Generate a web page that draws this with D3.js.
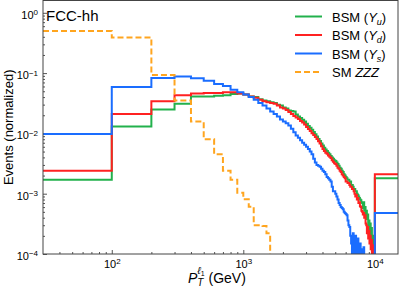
<!DOCTYPE html>
<html lang="en">
<head>
  <meta charset="utf-8">
  <script src="https://cdn.jsdelivr.net/npm/d3@7"></script>
  <style>
    body { margin: 0; background: #fff; }
    text { font-family: 'Liberation Sans', Arial, sans-serif; fill: #000; }
    .axis path { display: none; }
    .axis line { stroke: #555; stroke-width: 1; }
    .axis text { font-size: 11px; }
  </style>
</head>
<body>
<div id="chart"></div>
<script>
// bin edges: 30-100, then 100 GeV bins up to 10 TeV, then 10-15 TeV overflow
var binEdges = [30].concat(d3.range(100, 10001, 100), [15000]);

var yuValues = [
  0.0017, 0.013, 0.025, 0.031, 0.041, 0.041, 0.042, 0.043, 0.045, 0.046,
  0.044, 0.041, 0.040, 0.037, 0.035, 0.034, 0.033, 0.032, 0.030, 0.029,
  0.027, 0.026, 0.024, 0.0235, 0.023, 0.0205, 0.019, 0.018, 0.0168, 0.0158,
  0.0145, 0.0133, 0.0124, 0.0115, 0.0106, 0.0097, 0.0089, 0.0081, 0.0075, 0.0068,
  0.0063, 0.0058, 0.0054, 0.0051, 0.0048, 0.0045, 0.0042, 0.0040, 0.0038, 0.0036,
  0.0035, 0.0033, 0.0031, 0.0029, 0.0027, 0.0026, 0.0024, 0.0023, 0.0021, 0.0020,
  0.0019, 0.0018, 0.0017, 0.0017, 0.0016, 0.0016, 0.0014, 0.0014, 0.0013, 0.0012,
  0.0012, 0.0011, 0.0011, 0.0010, 0.00095, 0.0009, 0.00085, 0.0008, 0.00078, 0.00072,
  0.0007, 0.00058, 0.00072, 0.00052, 0.0006, 0.00045, 0.00052, 0.00038, 0.00045, 0.0003,
  0.00036, 0.00025, 0.00032, 0.0002, 0.00027, 0.00015, 0.0002, 0.00011, 0.00016, 0.00009,
  0.0018
];

var ydValues = [
  0.0024, 0.021, 0.034, 0.043, 0.046, 0.047, 0.047, 0.048, 0.048, 0.046,
  0.044, 0.041, 0.039, 0.036, 0.034, 0.033, 0.032, 0.031, 0.029, 0.027,
  0.026, 0.0245, 0.0226, 0.021, 0.0195, 0.0184, 0.0174, 0.0161, 0.0152, 0.0141,
  0.0128, 0.0118, 0.011, 0.0101, 0.0094, 0.0087, 0.0081, 0.0074, 0.0068, 0.0061,
  0.0055, 0.0051, 0.0048, 0.0046, 0.0043, 0.0041, 0.0039, 0.0036, 0.0034, 0.0032,
  0.0031, 0.0029, 0.0027, 0.0026, 0.0024, 0.0023, 0.0021, 0.0020, 0.0019, 0.0018,
  0.0016, 0.0016, 0.0015, 0.0015, 0.0014, 0.0013, 0.0013, 0.0012, 0.0012, 0.0011,
  0.0010, 0.0009, 0.00095, 0.0008, 0.00085, 0.0007, 0.00072, 0.00062, 0.0006, 0.00052,
  0.0005, 0.00045, 0.00048, 0.0004, 0.00044, 0.00032, 0.0003, 0.00022, 0.00028, 0.00018,
  0.00024, 0.00015, 0.0002, 0.00012, 0.00017, 0.0001, 0.00014, 0.00008, 0.00012, 0.00007,
  0.0021
];

var ysValues = [
  0.0098, 0.059, 0.083, 0.088, 0.082, 0.075, 0.066, 0.061, 0.053, 0.048,
  0.044, 0.040, 0.036, 0.032, 0.029, 0.026, 0.023, 0.021, 0.019, 0.017,
  0.0158, 0.0148, 0.0135, 0.012, 0.0105, 0.0092, 0.0085, 0.0077, 0.007, 0.0065,
  0.006, 0.0055, 0.005, 0.0045, 0.0038, 0.0033, 0.0030, 0.0029, 0.0028, 0.0026,
  0.0024, 0.0023, 0.0021, 0.0019, 0.0018, 0.0017, 0.0016, 0.0013, 0.0011, 0.0011,
  0.0010, 0.0009, 0.0008, 0.0007, 0.00065, 0.0006, 0.00058, 0.00055, 0.0005, 0.00048,
  0.00046, 0.00044, 0.00036, 0.0003, 0.00028, 0.0002, 0.00015, 0.00009, 0.00022, 0.00012,
  0.00008, 0.0002, 0.00014, 0.00006, 0.00018, 0.00011, 0.00005, 0.00015, 0.00009, 0.00012,
  0.00004, 0.00008, 0.00013, 0.00005, 0.00009, 0.00004, 0.00001, 0.00001, 0.00001, 0.00001,
  0.00001, 0.00001, 0.00001, 0.00001, 0.00001, 0.00001, 0.00001, 0.00001, 0.00001, 0.00001,
  0.00048
];

// SM ZZZ falls below the axis after 1.6 TeV
var zzzValues = [
  0.50, 0.39, 0.093, 0.035, 0.0157, 0.008, 0.0045, 0.0024, 0.0017, 0.00104,
  0.00081, 0.00061, 0.0003, 0.0003, 0.00029, 0.00022, 0.00004
];

var xTickValues = [100, 1000, 10000];
var yTickValues = [1e-4, 1e-3, 1e-2, 1e-1, 1];

var series = [
  { name: 'Yu', values: yuValues, color: '#22b14c', dash: null },
  { name: 'Yd', values: ydValues, color: '#ff2121', dash: null },
  { name: 'Ys', values: ysValues, color: '#1a6dff', dash: null },
  { name: 'ZZZ', values: zzzValues, color: '#ffa51f', dash: '6,3' }
];

var width = 399, height = 290;
var margin = { top: 0.5, right: 1, bottom: 36, left: 43 };
var w = width - margin.left - margin.right,
  h = height - margin.top - margin.bottom;

var svg = d3.select('#chart').append('svg')
  .attr('width', width)
  .attr('height', height)
  .append('g')
  .attr('transform', 'translate(' + margin.left + ',' + margin.top + ')');

var x = d3.scaleLog().domain([30, 15000]).range([0, w]);
var y = d3.scaleLog().domain([1e-4, 1.6]).range([h, 0]);

svg.append('clipPath').attr('id', 'plotclip')
  .append('rect').attr('width', w).attr('height', h);

// minor ticks at 2..9 x 10^k
function minors(lo, hi) {
  var out = [];
  for (var e = Math.floor(Math.log10(lo)); e <= Math.ceil(Math.log10(hi)); e++) {
    for (var m = 2; m < 10; m++) {
      var v = m * Math.pow(10, e);
      if (v > lo && v < hi) out.push(v);
    }
  }
  return out;
}

var sup = function(v) {
  return String(Math.round(Math.log10(v))).replace('-', '\u2212');
};

svg.append('g').attr('class', 'axis')
  .attr('transform', 'translate(0,' + h + ')')
  .call(d3.axisBottom(x).tickValues(minors(30, 15000)).tickSize(-2).tickFormat(''));

svg.append('g').attr('class', 'axis')
  .attr('transform', 'translate(0,' + h + ')')
  .call(d3.axisBottom(x).tickValues(xTickValues).tickSize(-4).tickPadding(6)
    .tickFormat(function() { return '10'; }))
  .selectAll('.tick text')
  .append('tspan').attr('dy', '-0.45em').attr('font-size', '8px').text(sup);

svg.append('g').attr('class', 'axis')
  .call(d3.axisLeft(y).tickValues(minors(1e-4, 1.6)).tickSize(-2).tickFormat(''));

svg.append('g').attr('class', 'axis')
  .call(d3.axisLeft(y).tickValues(yTickValues).tickSize(-4).tickPadding(5)
    .tickFormat(function() { return '10'; }))
  .selectAll('.tick text')
  .attr('dy', '0.5em')
  .append('tspan').attr('dy', '-0.45em').attr('font-size', '8px').text(sup);

// step histograms
var line = d3.line()
  .x(function(d) { return x(d[0]); })
  .y(function(d) { return y(d[1]); })
  .curve(d3.curveStepAfter);

var lines = svg.append('g').attr('clip-path', 'url(#plotclip)');

series.forEach(function(s) {
  var pts = s.values.map(function(v, i) { return [binEdges[i], v]; });
  pts.push([binEdges[s.values.length], s.values[s.values.length - 1]]);
  lines.append('path')
    .attr('d', line(pts))
    .attr('fill', 'none')
    .attr('stroke', s.color)
    .attr('stroke-width', 2)
    .attr('stroke-dasharray', s.dash);
});

// frame
svg.append('rect')
  .attr('width', w).attr('height', h)
  .attr('fill', 'none').attr('stroke', '#444').attr('stroke-width', 1);

svg.append('text')
  .attr('x', 3).attr('y', 20)
  .style('font-size', '15px')
  .text('FCC-hh');

// legend
var legend = svg.selectAll('.legend')
  .data(series)
  .enter().append('g')
  .attr('transform', function(d, i) {
    return 'translate(' + (295 - margin.left) + ',' + (16 + i * 18.5) + ')';
  });

legend.append('line')
  .attr('x1', 0).attr('x2', 27)
  .attr('stroke', function(d) { return d.color; })
  .attr('stroke-width', 2)
  .attr('stroke-dasharray', function(d) { return d.dash; });

legend.append('text')
  .attr('x', 37).attr('y', 5)
  .style('font-size', '13px')
  .each(function(d) {
    var t = d3.select(this);
    if (d.name === 'ZZZ') {
      t.append('tspan').text('SM ');
      t.append('tspan').style('font-style', 'italic').text('ZZZ');
    } else {
      t.append('tspan').text('BSM (');
      t.append('tspan').style('font-style', 'italic').text('Y');
      t.append('tspan').style('font-style', 'italic').style('font-size', '9px')
        .attr('dy', 3).text(d.name.charAt(1));
      t.append('tspan').attr('dy', -3).text(')');
    }
  });

// axis titles
svg.append('text')
  .attr('transform', 'translate(' + (-30) + ',' + (h / 2) + ') rotate(-90)')
  .attr('text-anchor', 'middle')
  .style('font-size', '13px')
  .text('Events (normalized)');

var xt = svg.append('text')
  .attr('x', 188 - margin.left).attr('y', 282)
  .style('font-size', '14px');
xt.append('tspan').style('font-style', 'italic').text('P');
xt.append('tspan').style('font-style', 'italic').style('font-size', '10px')
  .attr('dy', 3).text('T');
xt.append('tspan').style('font-style', 'italic').style('font-size', '10px')
  .attr('dx', -6).attr('dy', -12).text('\u2113');
xt.append('tspan').style('font-size', '7px').attr('dy', 2).text('1');
xt.append('tspan').attr('dy', 7).text(' (GeV)');
</script>
</body>
</html>
